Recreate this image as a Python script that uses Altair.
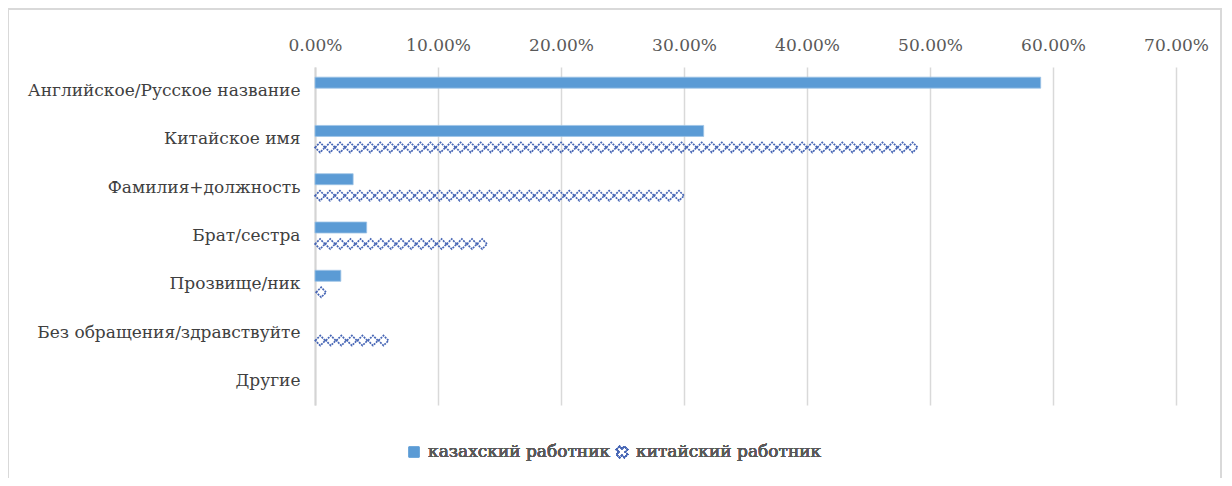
import altair as alt
import pandas as pd

categories = [
    "Английское/Русское название",
    "Китайское имя",
    "Фамилия+должность",
    "Брат/сестра",
    "Прозвище/ник",
    "Без обращения/здравствуйте",
    "Другие",
]
kazakh = [0.59, 0.316, 0.031, 0.042, 0.021, 0.0, 0.0]
chinese = [0.0, 0.49, 0.30, 0.14, 0.01, 0.06, 0.0]
series_names = ["казахский работник", "китайский работник"]
x_ticks = [0.0, 0.1, 0.2, 0.3, 0.4, 0.5, 0.6, 0.7]

df = pd.DataFrame({"category": categories, "kz": kazakh, "cn": chinese})

W, H = 861, 338
XMAX = 0.7
FONT = "DejaVu Serif"
FS = 17
period = 10 * XMAX / W  # pattern repeat (about 10 px) in data units

xscale = alt.Scale(domain=[0, XMAX], nice=False, zero=True)
yscale = alt.Scale(domain=categories, paddingInner=0, paddingOuter=0)

x_axis = alt.Axis(
    orient="top", format=".2%", values=x_ticks, title=None,
    grid=True, gridColor="#d9d9d9", gridWidth=1.5,
    ticks=False, domain=False, labelPadding=13, labelFlush=False,
    labelFont=FONT, labelFontSize=FS, labelColor="#595959",
)
y_axis = alt.Axis(
    title=None, ticks=False, domain=True, domainColor="#d4d4d4", domainWidth=2,
    labelPadding=15, labelFont=FONT, labelFontSize=FS, labelColor="#404040",
    labelLimit=400,
)

base = alt.Chart(df)

bars = base.transform_filter("datum.kz > 0").mark_bar(
    height=11, yOffset=-8.5, color="#5b9bd5", stroke="#9dc3e6", strokeWidth=0.8
).encode(
    x=alt.X("kz:Q", scale=xscale, axis=x_axis),
    y=alt.Y("category:N", scale=yscale, axis=y_axis, sort=categories),
)

# patterned bars: a chain of diamonds that fills each bar exactly to its value
pattern = base.transform_filter("datum.cn > 0").transform_calculate(
    n=f"max(1, round(datum.cn / {period}))"
).transform_calculate(
    p="datum.cn / datum.n"
).transform_calculate(
    t="sequence(datum.p / 2, datum.cn, datum.p)"
).transform_flatten(["t"]).mark_point(
    shape="diamond", size=100, filled=False, color="#4766b5",
    strokeWidth=1.7, strokeDash=[2, 1], yOffset=8, opacity=1,
).encode(
    x=alt.X("t:Q", scale=xscale, axis=x_axis),
    y=alt.Y("category:N", scale=yscale, axis=y_axis, sort=categories),
)

# legend (drawn by hand to show the pattern swatch)
leg_y = 385
leg_sq = alt.Chart(df).mark_square(size=110, color="#5b9bd5", opacity=1).encode(
    x=alt.value(99), y=alt.value(leg_y)
)
leg_t1 = alt.Chart(df).mark_text(
    align="left", baseline="middle", font=FONT, fontSize=FS, color="#595959"
).encode(x=alt.value(113), y=alt.value(leg_y), text=alt.value(series_names[0]))
leg_pat = alt.Chart(df).mark_point(
    shape="cross", angle=45, size=130, filled=False, color="#4766b5",
    strokeWidth=1.4, strokeDash=[2, 1], opacity=1,
).encode(x=alt.value(307), y=alt.value(leg_y))
leg_t2 = alt.Chart(df).mark_text(
    align="left", baseline="middle", font=FONT, fontSize=FS, color="#595959"
).encode(x=alt.value(321), y=alt.value(leg_y), text=alt.value(series_names[1]))

# outer chart frame
frame_col = "#d9d9d9"
fl = alt.Chart(df).mark_rule(color=frame_col, strokeWidth=2).encode(
    x=alt.value(-307), y=alt.value(-58), y2=alt.value(430))
ft = alt.Chart(df).mark_rule(color=frame_col, strokeWidth=2).encode(
    x=alt.value(-308), x2=alt.value(907), y=alt.value(-58))
fr = alt.Chart(df).mark_rule(color=frame_col, strokeWidth=2).encode(
    x=alt.value(906), y=alt.value(-58), y2=alt.value(430))

chart = alt.layer(bars, pattern, leg_sq, leg_t1, leg_pat, leg_t2, fl, ft, fr).properties(
    width=W, height=H,
    autosize=alt.AutoSizeParams(type="none"),
    padding={"left": 307, "top": 59, "right": 48, "bottom": 73},
    background="white",
).configure_view(stroke=None)

chart.save("out.html", embed_options={"renderer": "svg", "actions": False})
